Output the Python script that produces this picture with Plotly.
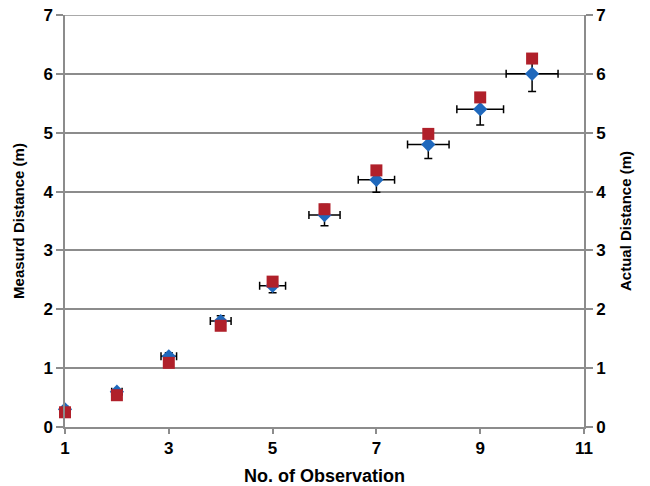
import plotly.graph_objects as go

obs = [1, 2, 3, 4, 5, 6, 7, 8, 9, 10]
measured = [0.3, 0.6, 1.2, 1.8, 2.4, 3.6, 4.2, 4.8, 5.4, 6.0]
actual = [0.25, 0.54, 1.09, 1.72, 2.47, 3.70, 4.36, 4.98, 5.60, 6.26]
err_x = [0.05, 0.10, 0.15, 0.20, 0.25, 0.30, 0.35, 0.40, 0.45, 0.50]
err_y = [0.015, 0.03, 0.06, 0.09, 0.12, 0.18, 0.21, 0.24, 0.27, 0.30]
x_ticks = [1, 3, 5, 7, 9, 11]
y_ticks = [0, 1, 2, 3, 4, 5, 6, 7]

BLUE = "#1F68BC"
RED = "#B0202A"
GRID = "#8C8C8C"
FONT = "Liberation Sans"

fig = go.Figure()
fig.add_trace(go.Scatter(
    x=obs, y=measured, mode="markers", name="Measured", cliponaxis=False,
    marker=dict(symbol="diamond", size=11, color=BLUE),
    error_x=dict(type="data", array=err_x, color="black", thickness=1.5, width=4),
    error_y=dict(type="data", array=err_y, color="black", thickness=1.5, width=4),
    yaxis="y"))
fig.add_trace(go.Scatter(
    x=obs, y=actual, mode="markers", name="Actual", cliponaxis=False,
    marker=dict(symbol="square", size=12, color=RED),
    yaxis="y2"))

tickfont = dict(family=FONT, size=17, color="black")
ytitlefont = dict(family=FONT, size=15, color="black")
xtitlefont = dict(family=FONT, size=18, color="black")

# top gridline (plotly omits gridlines at the very edge of the range)
fig.add_shape(type="line", xref="paper", x0=0, x1=1, yref="y", y0=y_ticks[-1], y1=y_ticks[-1],
              line=dict(color=GRID, width=1.5), layer="below")

fig.update_layout(
    width=650, height=486,
    margin=dict(l=65, r=66, t=15, b=59),
    paper_bgcolor="white", plot_bgcolor="white",
    showlegend=False,
    font=dict(family=FONT),
    xaxis=dict(
        range=[1, 11], tickvals=x_ticks, ticktext=[f"<b>{v}</b>" for v in x_ticks],
        showgrid=False, zeroline=False, automargin=False, ticklabeloverflow="allow",
        showline=True, linecolor=GRID, linewidth=1.5,
        ticks="outside", ticklen=5, tickcolor=GRID, tickwidth=1.5,
        tickfont=tickfont,
        title=dict(text="<b>No. of Observation</b>", font=xtitlefont),
    ),
    yaxis=dict(
        range=[0, 7], tickvals=y_ticks, ticktext=[f"<b>{v}</b>" for v in y_ticks],
        showgrid=True, gridcolor=GRID, gridwidth=1.5, zeroline=False, automargin=False,
        ticklabeloverflow="allow",
        showline=True, linecolor=GRID, linewidth=1.5,
        ticks="outside", ticklen=7, tickcolor=GRID, tickwidth=1.5,
        tickfont=tickfont,
        title=dict(text="<b>Measurd Distance (m)</b>", font=ytitlefont),
    ),
    yaxis2=dict(
        range=[0, 7], tickvals=y_ticks, ticktext=[f"<b>{v}</b>" for v in y_ticks],
        overlaying="y", side="right", automargin=False, ticklabeloverflow="allow",
        showgrid=False, zeroline=False,
        showline=True, linecolor=GRID, linewidth=1.5,
        ticks="outside", ticklen=7, tickcolor=GRID, tickwidth=1.5,
        tickfont=tickfont,
        title=dict(text="<b>Actual Distance (m)</b>", font=ytitlefont),
    ),
)

fig.write_html("out.html", config={"displayModeBar": False},
               post_script="document.body.style.margin='0';")
